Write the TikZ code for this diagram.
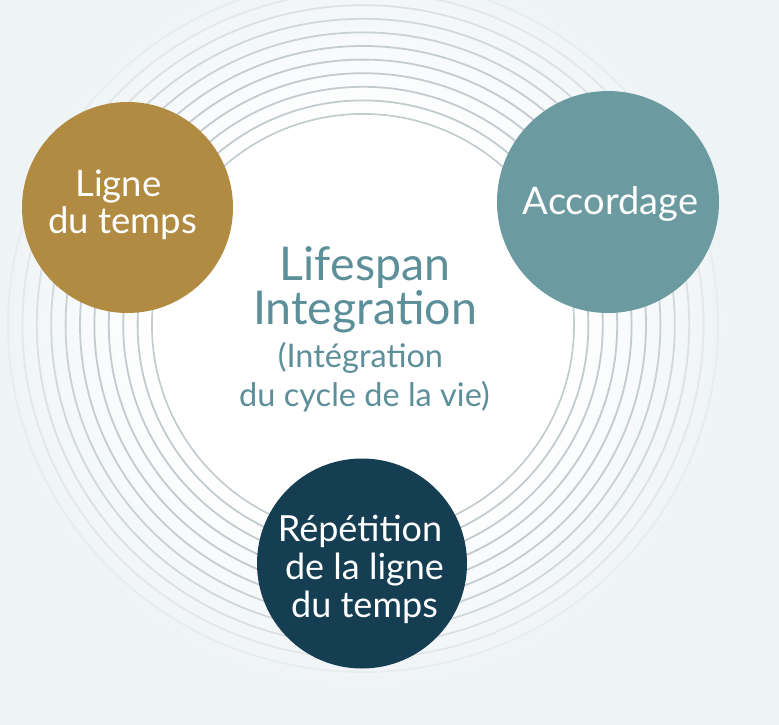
\documentclass[tikz,border=0pt]{standalone}
\usepackage{fontspec}
\setmainfont{Lato}
\definecolor{bg}{HTML}{EEF3F5}
\definecolor{ringc}{HTML}{C3CBCF}
\definecolor{goldc}{HTML}{B08B41}
\definecolor{tealc}{HTML}{6B9AA1}
\definecolor{navyc}{HTML}{153E53}
\definecolor{titlec}{HTML}{5C8F99}
\pgfdeclareradialshading{glow}{\pgfpoint{0bp}{0bp}}{color(0bp)=(white); color(14bp)=(white); color(25bp)=(bg); color(50bp)=(bg)}
\tikzset{
  ring/.style={draw=ringc, line width=1.8pt},
  bubble/.style={circle, inner sep=0pt, draw=none},
  bubbletext/.style={text=white, align=center, anchor=base, inner sep=0pt},
  titletext/.style={text=titlec, align=center, anchor=base, inner sep=0pt}
}
\begin{document}
\begin{tikzpicture}[x=1pt,y=-1pt]
\fill[bg] (0,0) rectangle (779,725);
\useasboundingbox (0,0) rectangle (779,725);
\coordinate (c) at (363,325);
\shade[shading=glow] (c) circle[radius=370];
\foreach \k/\o in {0/1,1/1,2/1,3/1,4/1,5/0.95,6/0.85,7/0.7,8/0.5,9/0.32,10/0.18}
  \draw[ring, draw opacity=\o] (c) ellipse[x radius=211+14.4*\k, y radius=211+13.6*\k];
\fill[white] (c) circle[radius=210];
% bubbles
\node[bubble, fill=goldc, minimum size=211pt] (gold) at (127.5,207.5) {};
\node[bubble, fill=tealc, minimum size=222pt] (teal) at (608,202) {};
\node[bubble, fill=navyc, minimum size=210pt] (navy) at (362,563.5) {};
% bubble texts
\node[bubbletext, font=\fontsize{36.5}{37}\selectfont] (goldt1) at (118.5,196) {Ligne};
\node[bubbletext, font=\fontsize{36.5}{37}\selectfont] (goldt2) at (122.5,233) {du temps};
\node[bubbletext, font=\fontsize{38}{40}\selectfont] (tealt) at (610.5,214) {Accordage};
\node[bubbletext, font=\fontsize{36}{37}\selectfont] (navyt1) at (360,541) {Répétition};
\node[bubbletext, font=\fontsize{36}{37}\selectfont] (navyt2) at (364.5,579) {de la ligne};
\node[bubbletext, font=\fontsize{36}{37}\selectfont] (navyt3) at (364.5,617) {du temps};
% centre texts
\node[titletext, font=\fontsize{46.5}{39}\selectfont] (title) at (365,324) {Lifespan\\Integration};
\node[titletext, font=\fontsize{32.5}{39}\selectfont] (sub1) at (360.5,367) {(Intégration};
\node[titletext, font=\fontsize{32.5}{39}\selectfont] (sub2) at (364.5,406) {du cycle de la vie)};
\end{tikzpicture}
\end{document}
